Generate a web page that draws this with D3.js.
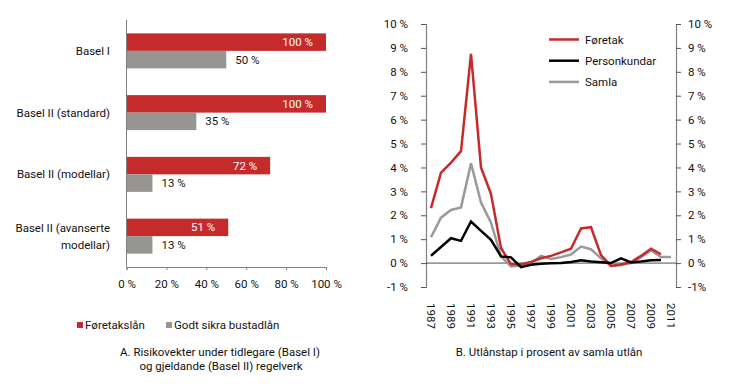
<!DOCTYPE html>
<html>
<head>
<meta charset="utf-8">
<script src="https://cdn.jsdelivr.net/npm/d3@7"></script>
<style>
  body { margin: 0; background: #fff; }
  svg text { font-family: Roboto, "Open Sans", sans-serif; fill: #111; }
</style>
</head>
<body>
<div id="chart"></div>
<script>
// Panel A data
const categories = ["Basel I", "Basel II (standard)", "Basel II (modellar)", "Basel II (avanserte modellar)"];
const foretakslan = [100, 100, 72, 51];
const bustadlan = [50, 35, 13, 13];
const barTicks = [0, 20, 40, 60, 80, 100];

// Panel B data
const years = d3.range(1987, 2012);
const foretak = [2.3, 3.78, 4.2, 4.68, 8.75, 4.0, 2.89, 0.63, -0.05, -0.05, 0.05, 0.2, 0.3, 0.45, 0.6, 1.45, 1.5, 0.33, -0.12, -0.06, 0.04, 0.3, 0.6, 0.37];
const personkundar = [0.31, 0.67, 1.04, 0.93, 1.74, 1.35, 0.97, 0.28, 0.24, -0.17, -0.07, -0.03, -0.01, 0.0, 0.05, 0.12, 0.07, 0.04, 0.0, 0.2, 0.03, 0.07, 0.12, 0.13];
const samla = [1.08, 1.9, 2.22, 2.33, 4.17, 2.53, 1.69, 0.28, -0.14, -0.1, 0.0, 0.3, 0.17, 0.25, 0.36, 0.69, 0.58, 0.2, -0.12, -0.08, 0.0, 0.25, 0.53, 0.25, 0.25];
const yearLabels = d3.range(1987, 2012, 2);
const pctTicks = d3.range(-1, 11);

const RED = "#c62b2c", GREY = "#979592", LGREY = "#9a9a9a";

const svg = d3.select("#chart").append("svg")
  .attr("width", 730).attr("height", 387);

// ---------- Panel A: bars ----------
const x = d3.scaleLinear().domain([0, 100]).range([126.5, 326]);
const y0 = d3.scaleBand().domain(categories).range([20, 267]);
const step = y0.bandwidth();
const y1 = d3.scaleBand().domain(["f", "b"]).range([(step - 35) / 2, (step + 35) / 2]);

const a = svg.append("g");
const groups = a.selectAll("g.cat").data(categories).enter()
  .append("g").attr("transform", d => `translate(0,${y0(d)})`);

groups.append("rect")
  .attr("x", x(0)).attr("y", y1("f"))
  .attr("width", (d, i) => x(foretakslan[i]) - x(0))
  .attr("height", y1.bandwidth())
  .attr("fill", RED);
groups.append("rect")
  .attr("x", x(0)).attr("y", y1("b"))
  .attr("width", (d, i) => x(bustadlan[i]) - x(0))
  .attr("height", y1.bandwidth())
  .attr("fill", GREY);

groups.append("text")
  .attr("x", (d, i) => x(foretakslan[i]) - 13)
  .attr("y", y1("f") + y1.bandwidth() / 2)
  .attr("dy", "0.35em").attr("text-anchor", "end")
  .style("fill", "#fff").style("font-size", "11.5px")
  .text((d, i) => foretakslan[i] + " %");
groups.append("text")
  .attr("x", (d, i) => x(bustadlan[i]) + 9)
  .attr("y", y1("b") + y1.bandwidth() / 2)
  .attr("dy", "0.35em")
  .style("font-size", "11.5px")
  .text((d, i) => bustadlan[i] + " %");

// category labels
const catLines = [["Basel I"], ["Basel II (standard)"], ["Basel II (modellar)"], ["Basel II (avanserte", "modellar)"]];
groups.each(function (d, i) {
  const lines = catLines[i];
  const t = d3.select(this).append("text")
    .attr("text-anchor", "end")
    .style("font-size", "11.5px");
  lines.forEach((l, j) => {
    t.append("tspan").attr("x", 110)
      .attr("y", step / 2 + (j - (lines.length - 1) / 2) * 17)
      .attr("dy", "0.35em").text(l);
  });
});

// axes
a.append("line").attr("x1", x(0)).attr("x2", x(0)).attr("y1", 20).attr("y2", 267)
  .attr("stroke", "#808080").attr("stroke-width", 1);
const xAxis = a.append("g").attr("transform", "translate(0,267)")
  .call(d3.axisBottom(x).tickValues(barTicks).tickSize(3).tickPadding(10).tickFormat(d => d + " %"));
xAxis.select(".domain").attr("stroke", "#808080");
xAxis.selectAll(".tick line").attr("stroke", "#808080");
xAxis.selectAll("text").style("font-size", "11.5px").style("font-family", "Roboto, sans-serif").attr("fill", "#111");

// legend A
const legA = [["Føretakslån", RED, 77], ["Godt sikra bustadlån", GREY, 166]];
legA.forEach(([t, c, lx]) => {
  a.append("rect").attr("x", lx).attr("y", 322).attr("width", 6).attr("height", 6).attr("fill", c);
  a.append("text").attr("x", lx + 8).attr("y", 325).attr("dy", "0.35em")
    .style("font-size", "11.5px").text(t);
});
a.append("text").attr("x", 220).attr("y", 351.5).attr("dy", "0.35em").attr("text-anchor", "middle")
  .style("font-size", "11.5px").text("A. Risikovekter under tidlegare (Basel I)");
a.append("text").attr("x", 221).attr("y", 365.5).attr("dy", "0.35em").attr("text-anchor", "middle")
  .style("font-size", "11.5px").text("og gjeldande (Basel II) regelverk");

// ---------- Panel B: lines ----------
const xb = d3.scaleBand().domain(years).range([426, 676]);
const xc = d => xb(d) + xb.bandwidth() / 2;
const yb = d3.scaleLinear().domain([-1, 10]).range([287, 24]);

const b = svg.append("g");
const pctFmt = d => d + " %";

const yl = b.append("g").attr("transform", "translate(426,0)")
  .call(d3.axisLeft(yb).tickValues(pctTicks).tickSize(5).tickPadding(13).tickFormat(pctFmt));
const yr = b.append("g").attr("transform", "translate(676,0)")
  .call(d3.axisRight(yb).tickValues(pctTicks).tickSize(5).tickPadding(7).tickFormat(d => d < 0 ? d + "%" : d + " %"));
[yl, yr].forEach(g => {
  g.select(".domain").attr("stroke", "#808080").attr("stroke-width", 1.2);
  g.selectAll(".tick line").attr("stroke", "#555");
  g.selectAll("text").style("font-size", "11.5px").style("font-family", "Roboto, sans-serif").attr("fill", "#111");
});

// zero line
b.append("line").attr("x1", 426).attr("x2", 676).attr("y1", yb(0)).attr("y2", yb(0))
  .attr("stroke", "#222").attr("stroke-width", 0.8);

// year labels
b.selectAll("text.year").data(yearLabels).enter().append("text")
  .attr("class", "year")
  .attr("transform", d => `translate(${xc(d)},303) rotate(90)`)
  .attr("dy", "0.35em")
  .style("font-size", "11.5px")
  .text(d => d);

const line = d3.line().x((d, i) => xc(years[i])).y(d => yb(d));
const series = [
  ["Føretak", foretak, RED],
  ["Personkundar", personkundar, "#000"],
  ["Samla", samla, LGREY]
];
[series[2], series[0], series[1]].forEach(([n, vals, c]) => {
  b.append("path").attr("d", line(vals)).attr("fill", "none")
    .attr("stroke", c).attr("stroke-width", 2.5).attr("stroke-linejoin", "miter");
});

// legend B
series.forEach(([n, vals, c], i) => {
  const ly = 39.5 + i * 21.2;
  b.append("line").attr("x1", 549).attr("x2", 579).attr("y1", ly).attr("y2", ly)
    .attr("stroke", c).attr("stroke-width", 2.5);
  b.append("text").attr("x", 585).attr("y", ly).attr("dy", "0.35em")
    .style("font-size", "11.5px").text(n);
});

b.append("text").attr("x", 549).attr("y", 351.5).attr("dy", "0.35em").attr("text-anchor", "middle")
  .style("font-size", "11.5px").text("B. Utlånstap i prosent av samla utlån");
</script>
</body>
</html>
